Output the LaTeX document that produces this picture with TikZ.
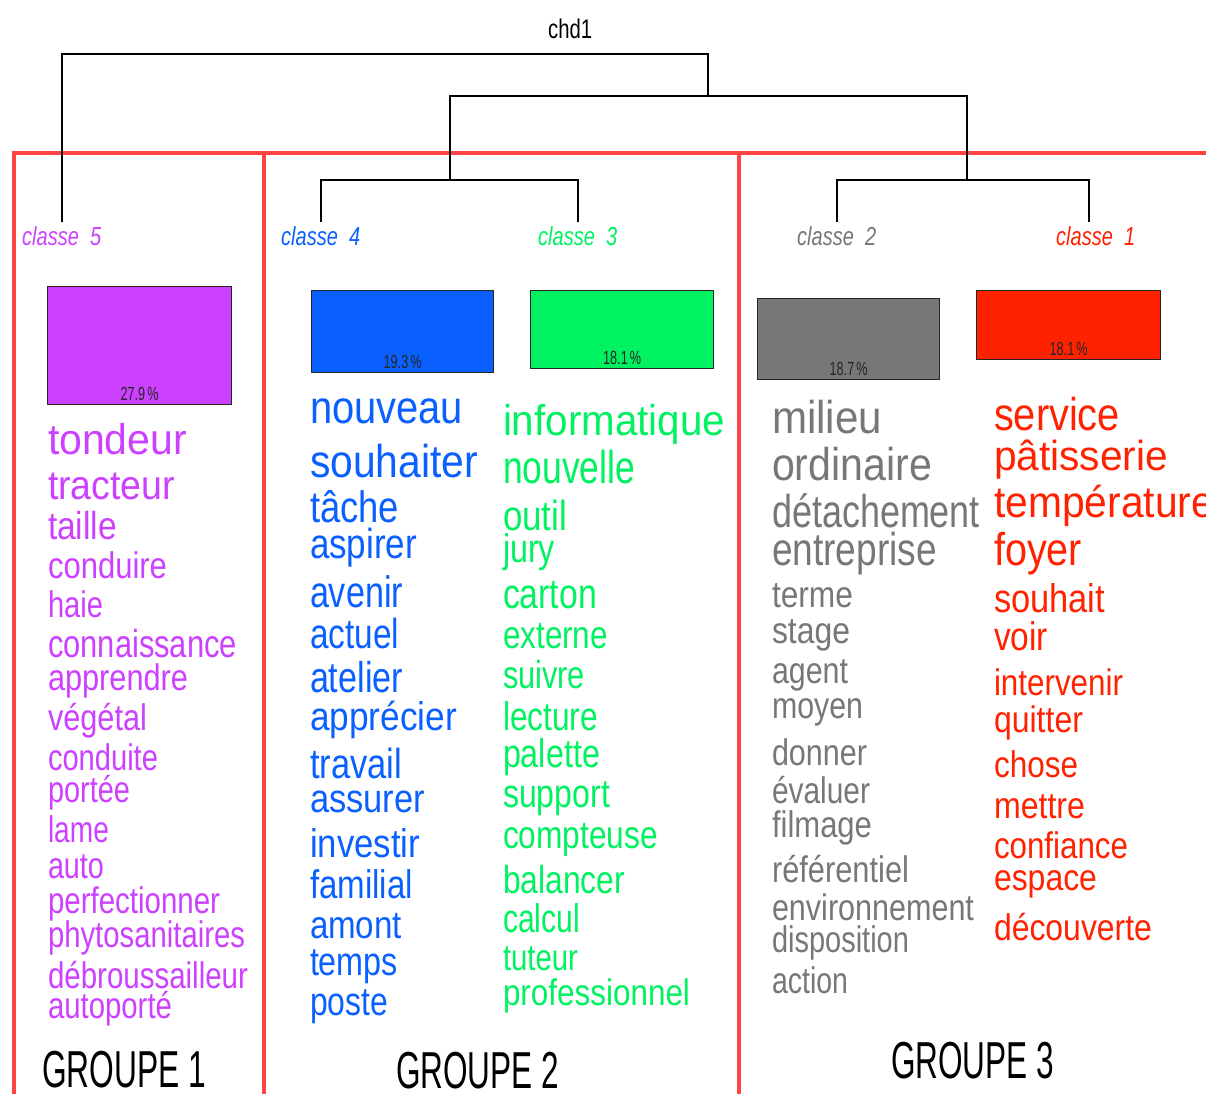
\documentclass[tikz,border=0pt]{standalone}
\usepackage{fontspec}
\setmainfont{Liberation Sans}
\usepackage{graphicx}
\definecolor{cl5}{RGB}{204,64,255}
\definecolor{cl4}{RGB}{10,96,255}
\definecolor{cl3}{RGB}{0,242,96}
\definecolor{cl2}{RGB}{119,119,119}
\definecolor{cl1}{RGB}{255,34,0}
\definecolor{groupred}{RGB}{255,68,68}
% size, target width, text
\newcommand{\fitword}[3]{\resizebox{#2pt}{\height}{\fontsize{#1}{#1}\selectfont #3}}

\begin{document}
\begin{tikzpicture}[x=1pt,y=-1pt,line join=miter,
  tree/.style={black,line width=1.6pt},
  groupline/.style={groupred,line width=4.5pt},
  bar/.style={draw=black!85,line width=1.3pt,anchor=north west,inner sep=0pt},
  pct/.style={above,inner sep=4.5pt,text=black!85},
  clab/.style={anchor=base west,inner sep=0pt,font=\itshape},
  word/.style={anchor=base west,inner sep=0pt,outer sep=0pt}]
  \useasboundingbox (0,0) rectangle (1206,1093);

  % group frames
  \draw[groupline] (12,153) -- (1215,153);
  \draw[groupline] (14,153) -- (14,1100);
  \draw[groupline] (264,153) -- (264,1100);
  \draw[groupline] (739,153) -- (739,1100);

  % dendrogram
  \node[anchor=base west,inner sep=0pt] (title) at (548,38) {\fitword{27}{44}{chd1}};
  \coordinate (top) at (708,54);
  \coordinate (a) at (708,96);
  \coordinate (b) at (450,180);
  \coordinate (c) at (967,180);
  \coordinate (l5) at (62,222);
  \coordinate (l4) at (321,222);
  \coordinate (l3) at (578,222);
  \coordinate (l2) at (837,222);
  \coordinate (l1) at (1089,222);
  \draw[tree] (l5) |- (top) -- (a);
  \draw[tree] (b) |- (a) -| (c);
  \draw[tree] (l4) |- (b) -| (l3);
  \draw[tree] (l2) |- (c) -| (l1);

  \foreach \k/\x in {5/22,4/281,3/538,2/797,1/1056}
    \node[clab,text=cl\k] (lab\k) at (\x,245) {\fitword{26}{79}{classe\ \ \k}};

  % class sizes
  \foreach \k/\x/\y/\bw/\bh/\p in {5/47/286/184/118/27.9,4/311/290/182/82/19.3,
      3/530/290/183/78/18.1,2/757/298/182/81/18.7,1/976/290/184/69/18.1}{
    \node[bar,fill=cl\k,minimum width=\bw pt,minimum height=\bh pt] (bar\k) at (\x,\y) {};
    \node[pct] (pc\k) at (bar\k.south) {\fitword{19}{38}{\p\,\%}};
  }

  % words of each class
  \foreach \wrd/\yb/\fs/\wid [count=\i] in {tondeur/454/43/139,tracteur/499/41/127,
      taille/539/39/69,conduire/578/37/119,haie/617/37/55,connaissance/657/39/189,
      apprendre/690/37/140,végétal/730/37/99,conduite/770/37/110,portée/802/37/82,
      lame/842/37/61,auto/878/37/56,perfectionner/913/37/172,phytosanitaires/947/37/197,
      débroussailleur/988/37/200,autoporté/1018/37/124}
    \node[word,text=cl5] (k5w\i) at (48,\yb) {\fitword{\fs}{\wid}{\wrd}};

  \foreach \wrd/\yb/\fs/\wid [count=\i] in {nouveau/423/46/153,souhaiter/477/46/168,
      tâche/522/44/89,aspirer/558/42/107,avenir/607/44/93,actuel/648/42/89,
      atelier/692/43/93,apprécier/730/40/147,travail/778/42/92,assurer/812/40/115,
      investir/857/40/110,familial/898/40/103,amont/938/39/92,temps/975/40/88,
      poste/1015/40/78}
    \node[word,text=cl4] (k4w\i) at (310,\yb) {\fitword{\fs}{\wid}{\wrd}};

  \foreach \wrd/\yb/\fs/\wid [count=\i] in {informatique/435/43/222,nouvelle/483/46/132,
      outil/530/42/64,jury/562/40/52,carton/608/42/94,externe/648/39/105,
      suivre/688/39/82,lecture/730/40/95,palette/767/40/97,support/807/40/107,
      compteuse/848/39/155,balancer/893/39/122,calcul/932/40/77,tuteur/970/37/75,
      professionnel/1005/37/187}
    \node[word,text=cl3] (k3w\i) at (503,\yb) {\fitword{\fs}{\wid}{\wrd}};

  \foreach \wrd/\yb/\fs/\wid [count=\i] in {milieu/433/46/110,ordinaire/480/46/160,
      détachement/527/46/208,entreprise/565/46/165,terme/607/37/81,stage/643/37/78,
      agent/683/37/76,moyen/718/37/91,donner/765/37/95,évaluer/803/37/98,
      filmage/837/37/100,référentiel/882/37/137,environnement/920/37/202,
      disposition/952/37/137,action/993/37/76}
    \node[word,text=cl2] (k2w\i) at (772,\yb) {\fitword{\fs}{\wid}{\wrd}};

  \foreach \wrd/\yb/\fs/\wid [count=\i] in {service/430/46/126,pâtisserie/470/42/174,
      température/517/44/220,foyer/565/46/88,souhait/612/40/111,voir/650/40/54,
      intervenir/695/37/129,quitter/732/37/89,chose/777/37/84,mettre/818/37/91,
      confiance/858/37/134,espace/890/37/103,découverte/940/37/158}
    \node[word,text=cl1] (k1w\i) at (994,\yb) {\fitword{\fs}{\wid}{\wrd}};

  % groups
  \node[word] (g1) at (42,1087) {\fitword{52}{164}{GROUPE 1}};
  \node[word] (g2) at (396,1088) {\fitword{52}{163}{GROUPE 2}};
  \node[word] (g3) at (891,1078) {\fitword{52}{163}{GROUPE 3}};
\end{tikzpicture}
\end{document}
